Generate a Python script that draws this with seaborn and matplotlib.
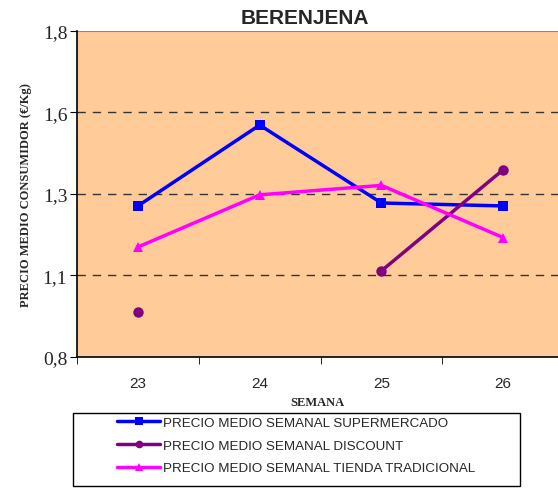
import numpy as np
import pandas as pd
import matplotlib
matplotlib.use("Agg")
import matplotlib.pyplot as plt
from matplotlib.lines import Line2D
from matplotlib.patches import Rectangle
import seaborn as sns

semanas = [23, 24, 25, 26]
supermercado = [1.263, 1.511, 1.272, 1.263]
discount = [0.938, np.nan, 1.064, 1.374]
tradicional = [1.137, 1.297, 1.326, 1.166]
series_names = [
    "PRECIO MEDIO SEMANAL SUPERMERCADO",
    "PRECIO MEDIO SEMANAL DISCOUNT",
    "PRECIO MEDIO SEMANAL TIENDA TRADICIONAL",
]
y_ticks = [0.8, 1.05, 1.3, 1.55, 1.8]
y_labels = ["0,8", "1,1", "1,3", "1,6", "1,8"]

colors = ["#0000FF", "#800080", "#FF00FF"]
markers = ["s", "o", "^"]

# long table; "tramo" splits a series where a week is missing
rows = []
for name, vals in zip(series_names, [supermercado, discount, tradicional]):
    tramo = 0
    for w, v in zip(semanas, vals):
        if np.isnan(v):
            tramo += 1
            continue
        rows.append({"semana": w, "precio": v, "serie": name, "tramo": tramo})
df = pd.DataFrame(rows)

sns.set_style("white")
fig = plt.figure(figsize=(5.58, 4.89), dpi=100)
ax = fig.add_axes([0.138, 0.268, 0.862, 0.667])
ax.set_facecolor("#FFCC99")

sns.lineplot(
    data=df, x="semana", y="precio", hue="serie", style="serie",
    units="tramo", estimator=None, palette=colors, markers=markers,
    dashes=False, linewidth=2.5, markersize=7.5, markeredgewidth=0,
    legend=False, ax=ax, zorder=3,
)

ax.set_xlim(22.5, 26.45)
ax.set_ylim(0.8, 1.8)
ax.set_yticks(y_ticks)
ax.set_yticklabels(y_labels, fontfamily="Liberation Serif", fontsize=14)
ax.set_xticks(semanas)
ax.set_xticklabels([str(s) for s in semanas], fontfamily="Liberation Sans", fontsize=11)
ax.set_xticks([22.5, 23.5, 24.5, 25.5], minor=True)
ax.tick_params(axis="x", which="major", length=0, pad=14)
ax.tick_params(axis="x", which="minor", length=5, direction="out", color="black", bottom=True)
ax.tick_params(axis="y", length=5, direction="out", color="black", left=True, pad=2)

for yv in y_ticks[1:-1]:
    ax.axhline(yv, color="#333333", lw=1, ls=(0, (6, 5)), zorder=1)
ax.axhline(1.8, color="#888888", lw=1.5, zorder=1)

for side in ["top", "right"]:
    ax.spines[side].set_visible(False)
for side in ["left", "bottom"]:
    ax.spines[side].set_color("black")
    ax.spines[side].set_linewidth(1.2)

fig.text(0.547, 0.963, "BERENJENA", ha="center", va="center",
         fontfamily="Liberation Sans", fontweight="bold", fontsize=15)
ax.set_xlabel("SEMANA", fontfamily="Liberation Serif", fontweight="bold", fontsize=9, labelpad=4)
ax.set_ylabel("PRECIO MEDIO CONSUMIDOR (€/Kg)", fontfamily="Liberation Serif",
              fontweight="bold", fontsize=9, labelpad=8)

# legend box below the plot
fig.patches.append(Rectangle((0.131, 0.004), 0.801, 0.149, transform=fig.transFigure,
                             facecolor="white", edgecolor="black", lw=1))
handles = [
    Line2D([], [], color=c, marker=m, lw=2.5, markersize=5.5, markeredgewidth=0)
    for c, m in zip(colors, markers)
]
fig.legend(
    handles, series_names, loc="upper left", bbox_to_anchor=(0.21, 0.146),
    frameon=False, handlelength=3.2, handletextpad=0.25, borderpad=0,
    borderaxespad=0, labelspacing=0.78,
    prop={"family": "Liberation Sans", "size": 9.6},
)

fig.savefig("out.png", dpi=100)
